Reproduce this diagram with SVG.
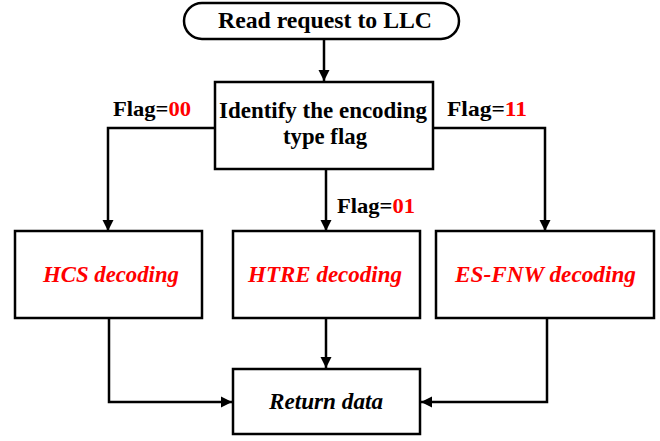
<svg xmlns="http://www.w3.org/2000/svg" width="660" height="441" viewBox="0 0 660 441">
<defs>
<style>
.box{fill:#fff;stroke:#000;stroke-width:2.5}
.ln{fill:none;stroke:#000;stroke-width:2.5}
.t{font-family:"Liberation Serif","Times New Roman",serif;font-weight:bold;font-size:24px;fill:#000}
.it{font-style:italic;fill:#ff0000}
.r{fill:#ff0000}
.lab{font-family:"Liberation Serif","Times New Roman",serif;font-weight:bold;font-size:21px;fill:#000}
</style>
<marker id="ah" viewBox="0 0 10 10" refX="10" refY="5" markerWidth="11" markerHeight="14" markerUnits="userSpaceOnUse" orient="auto">
<path d="M0,0 L10,5 L0,10 Z" fill="#000"/>
</marker>
</defs>
<rect width="660" height="441" fill="#fff"/>
<g id="connectors">
<line class="ln" x1="324" y1="39" x2="324" y2="81" marker-end="url(#ah)"/>
<polyline class="ln" points="215,128 108,128 108,231" marker-end="url(#ah)"/>
<line class="ln" x1="326" y1="169" x2="326" y2="231" marker-end="url(#ah)"/>
<polyline class="ln" points="433,128 545,128 545,231" marker-end="url(#ah)"/>
<polyline class="ln" points="109,318 109,402 232,402" marker-end="url(#ah)"/>
<line class="ln" x1="326" y1="318" x2="326" y2="368" marker-end="url(#ah)"/>
<polyline class="ln" points="547,318 547,402 421,402" marker-end="url(#ah)"/>
</g>
<g id="labels">
<text class="lab" x="113" y="116" textLength="78" lengthAdjust="spacingAndGlyphs">Flag=<tspan class="r">00</tspan></text>
<text class="lab" x="447" y="116" textLength="80" lengthAdjust="spacingAndGlyphs">Flag=<tspan class="r">11</tspan></text>
<text class="lab" x="337" y="213" textLength="78" lengthAdjust="spacingAndGlyphs">Flag=<tspan class="r">01</tspan></text>
</g>
<g id="start">
<rect class="box" x="184" y="3" width="275" height="36" rx="18" ry="18"/>
<text class="t" x="218" y="28" textLength="214" lengthAdjust="spacingAndGlyphs">Read request to LLC</text>
</g>
<g id="identify">
<rect class="box" x="215" y="82" width="218" height="87"/>
<text class="t" x="219" y="118" textLength="208" lengthAdjust="spacingAndGlyphs">Identify the encoding</text>
<text class="t" x="283" y="144" textLength="84" lengthAdjust="spacingAndGlyphs">type flag</text>
</g>
<g id="hcs">
<rect class="box" x="15" y="231" width="187" height="87"/>
<text class="t it" x="43" y="282" textLength="136" lengthAdjust="spacingAndGlyphs">HCS decoding</text>
</g>
<g id="htre">
<rect class="box" x="233" y="231" width="187" height="87"/>
<text class="t it" x="248" y="282" textLength="154" lengthAdjust="spacingAndGlyphs">HTRE decoding</text>
</g>
<g id="esfnw">
<rect class="box" x="436" y="231" width="218" height="87"/>
<text class="t it" x="455" y="282" textLength="181" lengthAdjust="spacingAndGlyphs">ES-FNW decoding</text>
</g>
<g id="return">
<rect class="box" x="233" y="369" width="187" height="65"/>
<text class="t it" x="269" y="409" textLength="114" lengthAdjust="spacingAndGlyphs" style="fill:#000">Return data</text>
</g>
</svg>
